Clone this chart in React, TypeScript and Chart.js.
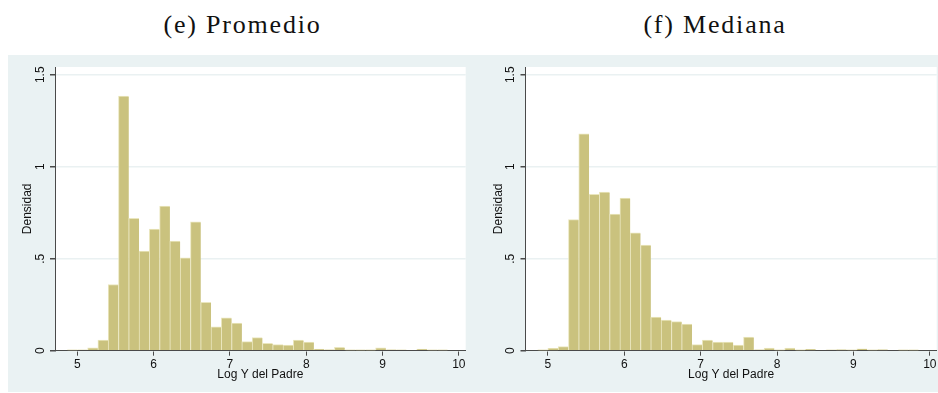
import React, { useEffect, useRef } from 'react';
import { Chart, registerables } from 'chart.js';

Chart.register(...registerables);

// Histogram bins (Log Y del Padre)
const BIN_START = 4.865;
const BIN_WIDTH = 0.1348;

// Densities
const promedioDensity = [
  0.003, 0.004, 0.016, 0.058, 0.36, 1.384, 0.719, 0.542, 0.661, 0.786,
  0.596, 0.505, 0.701, 0.263, 0.13, 0.179, 0.15, 0.049, 0.071, 0.04,
  0.033, 0.031, 0.058, 0.047, 0.009, 0.005, 0.018, 0.003, 0.002, 0.002,
  0.016, 0.005, 0.004, 0, 0.009, 0.003, 0.003,
];
const medianaDensity = [
  0.002, 0.013, 0.022, 0.712, 1.179, 0.85, 0.862, 0.743, 0.83, 0.64,
  0.574, 0.183, 0.167, 0.158, 0.145, 0.033, 0.058, 0.047, 0.047, 0.031,
  0.074, 0.005, 0.014, 0.003, 0.014, 0.002, 0.008, 0, 0.004, 0.006,
  0.003, 0.01, 0.003, 0.006, 0, 0.002, 0.002,
];

const xTicks = [5, 6, 7, 8, 9, 10];
const xTickLabels = ['5', '6', '7', '8', '9', '10'];
const yTicks = [0, 0.5, 1, 1.5];
const yTickLabels = ['0', '.5', '1', '1.5'];

const X_MIN = 4.707;
const X_MAX = 10.09;
const Y_MAX = 1.542;

const BAR_FILL = 'rgb(202,194,126)';
const BAR_EDGE = 'rgb(234,230,190)';
const AXIS = '#4a4a4a';
const GRID = '#eaf1f2';
const PANEL = '#eaf2f3';
const TEXT = '#111';
const SANS = '"Liberation Sans", Arial, Helvetica, sans-serif';

const plotBg = {
  id: 'plotBg',
  beforeDraw(chart: any) {
    const { ctx, chartArea } = chart;
    ctx.save();
    ctx.fillStyle = '#ffffff';
    ctx.fillRect(chartArea.left, chartArea.top, chartArea.right - chartArea.left, chartArea.bottom - chartArea.top);
    ctx.restore();
  },
};

const yLabels = {
  id: 'yLabels',
  afterDraw(chart: any) {
    const { ctx, chartArea, scales } = chart;
    const y = scales.y;
    ctx.save();
    ctx.fillStyle = TEXT;
    ctx.font = `12px ${SANS}`;
    ctx.textAlign = 'center';
    ctx.textBaseline = 'middle';
    yTicks.forEach((v, i) => {
      const py = y.getPixelForValue(v);
      ctx.save();
      ctx.translate(chartArea.left - 14.4, py);
      ctx.rotate(-Math.PI / 2);
      ctx.fillText(yTickLabels[i], 0, 0);
      ctx.restore();
    });
    ctx.save();
    ctx.translate(chartArea.left - 27.2, (chartArea.top + chartArea.bottom) / 2);
    ctx.rotate(-Math.PI / 2);
    ctx.fillText('Densidad', 0, 0);
    ctx.restore();
    ctx.restore();
  },
};

function Histogram({ values, yAxisWidth, width }: { values: number[]; yAxisWidth: number; width: number }) {
  const ref = useRef<HTMLCanvasElement>(null);
  useEffect(() => {
    const points = values.map((v, i) => ({ x: BIN_START + BIN_WIDTH * (i + 0.5), y: v }));
    const chart = new Chart(ref.current as HTMLCanvasElement, {
      type: 'bar',
      data: {
        datasets: [
          {
            data: points as any,
            backgroundColor: BAR_FILL,
            borderColor: BAR_EDGE,
            borderWidth: { top: 1, left: 1, right: 0, bottom: 0 } as any,
            borderSkipped: false,
            barPercentage: 1,
            categoryPercentage: 1,
          },
        ],
      },
      options: {
        animation: false,
        responsive: false,
        maintainAspectRatio: false,
        layout: { padding: { top: 12, right: 0, bottom: 0, left: 0 } },
        plugins: { legend: { display: false }, tooltip: { enabled: false }, title: { display: false } },
        scales: {
          x: {
            type: 'linear',
            min: X_MIN,
            max: X_MAX,
            offset: false,
            afterFit: (s: any) => {
              s.height = 41.3;
            },
            afterBuildTicks: (s: any) => {
              s.ticks = xTicks.map((v) => ({ value: v }));
            },
            grid: { display: true, drawOnChartArea: false, drawTicks: true, tickLength: 5, color: AXIS, tickColor: AXIS, offset: false },
            border: { display: true, color: AXIS, width: 1 },
            ticks: {
              color: TEXT,
              font: { family: SANS, size: 12 },
              padding: 1.5,
              maxRotation: 0,
              minRotation: 0,
              autoSkip: false,
              callback: (v: any) => xTickLabels[xTicks.indexOf(Number(v))] ?? '',
            },
            title: {
              display: true,
              text: 'Log Y del Padre',
              color: TEXT,
              font: { family: SANS, size: 12 },
              padding: { top: 0, bottom: 10 },
            },
          } as any,
          y: {
            min: 0,
            max: Y_MAX,
            afterFit: (s: any) => {
              s.width = yAxisWidth;
            },
            afterBuildTicks: (s: any) => {
              s.ticks = yTicks.map((v) => ({ value: v }));
            },
            grid: { display: true, drawOnChartArea: true, drawTicks: true, tickLength: 5, color: GRID, tickColor: AXIS, lineWidth: 1.5 },
            border: { display: true, color: AXIS, width: 1 },
            ticks: { display: false },
          } as any,
        },
      },
      plugins: [plotBg, yLabels],
    });
    return () => chart.destroy();
  }, [values, yAxisWidth, width]);
  return <canvas ref={ref} width={width} height={337} style={{ display: 'block', width, height: 337 }} />;
}

const titleStyle: React.CSSProperties = {
  position: 'absolute',
  top: 10,
  width: 300,
  height: 30,
  lineHeight: '30px',
  textAlign: 'center',
  fontFamily: '"Liberation Serif", "Times New Roman", serif',
  fontSize: 26,
  letterSpacing: 1.8,
  color: TEXT,
  whiteSpace: 'nowrap',
};

export default function App() {
  return (
    <div style={{ position: 'absolute', left: 0, top: 0, width: 938, height: 393, background: '#ffffff', overflow: 'hidden' }}>
      <div style={{ ...titleStyle, left: 242.5 - 150 }}>(e) Promedio</div>
      <div style={{ ...titleStyle, left: 715 - 150 }}>(f) Mediana</div>
      <div style={{ position: 'absolute', left: 8, top: 55, width: 459, height: 337, background: PANEL }}>
        <Histogram values={promedioDensity} yAxisWidth={47} width={459} />
      </div>
      <div style={{ position: 'absolute', left: 467, top: 55, width: 471, height: 337, background: PANEL }}>
        <Histogram values={medianaDensity} yAxisWidth={58.5} width={471} />
      </div>
    </div>
  );
}
